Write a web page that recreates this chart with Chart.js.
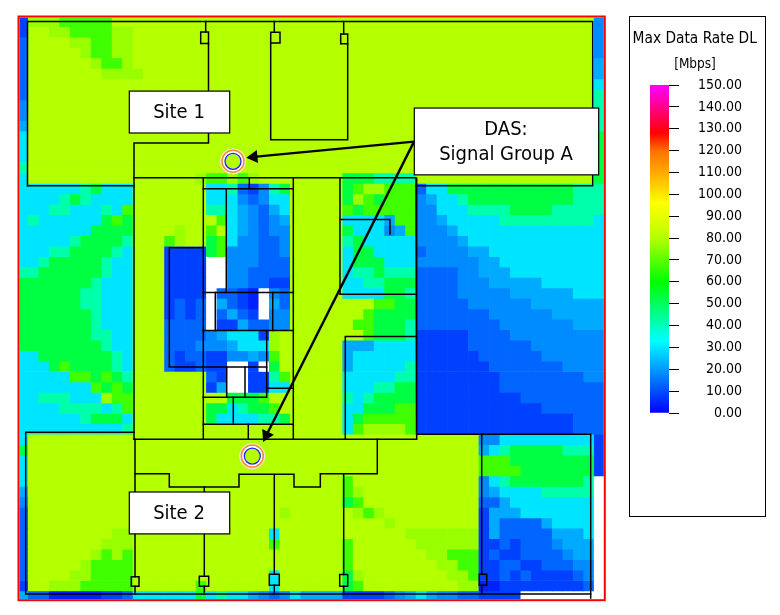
<!DOCTYPE html>
<html>
<head>
<meta charset="utf-8">
<style>
html,body{margin:0;padding:0;background:#fff;width:780px;height:615px;overflow:hidden}
canvas{position:absolute;top:0}
#plan{left:0}
#scale{left:620px}
</style>
<script src="https://cdn.jsdelivr.net/npm/chart.js@4"></script>
</head>
<body>
<canvas id="plan" width="620" height="615"></canvas>
<canvas id="scale" width="160" height="615"></canvas>
<script>
const FONT = '"DejaVu Sans Condensed","DejaVu Sans",sans-serif';

// Mbps value of each coverage class in the raster (W = no data)
const classValues = {A:80,B:77,C:67,D:53,E:42,F:29.6,G:22,H:18,I:13.2,J:8.3,K:4.1,W:null};

// Coverage raster, one string per row, 56 cells per row
const rasterRows = [
"JBBBCCCCCA AAAAAAAAAA AAAAAAAAAA AAAAAAAAAA AAAAAAAAAA AAAAAH",
"JAABBCCCCB BAAAAAAAAA AAAAAAAAAA AAAAAAAAAA AAAAAAAAAA AAAAAH",
"IAAAABBCCB BAAAAAAAAA AAAAAAAAAA AAAAAAAAAA AAAAAAAAAA AAAAAH",
"IAAAAABCCB BAAAAAAAAA AAAAAAAAAA AAAAAAAAAA AAAAAAAAAA AAAAAH",
"IAAAAAABCC BAAAAAAAAA AAAAAAAAAA AAAAAAAAAA AAAAAAAAAA AAAAAG",
"IAAAAAAABB BBAAAAAAAA AAAAAAAAAA AAAAAAAAAA AAAAAAAAAA AAAAAG",
"IAAAAAAAAA AAAAAAAAAA AAAAAAAAAA AAAAAAAAAA AAAAAAAAAA AAAAAF",
"IAAAAAAAAA AAAAAAAAAA AAAAAAAAAA AAAAAAAAAA AAAAAAAAAA AAAAAE",
"HAAAAAAAAA AAAAAAAAAA AAAAAAAAAA AAAAAAAAAA AAAAAAAAAA AAAAAE",
"HAAAAAAAAA AAAAAAAAAA AAAAAAAAAA AAAAAAAAAA AAAAAAAAAA AAAAAE",
"GAAAAAAAAA AAAAAAAAAA AAAAAAAAAA AAAAAAAAAA AAAAAAAAAA AAAAAE",
"FAAAAAAAAA AAAAAAAAAA AAAAAAAAAA AAAAAAAAAA AAAAAAAAAA AAAAAD",
"FAAAAAAAAA AAAAAAAAAA AAAAAAAAAA AAAAAAAAAA AAAAAAAAAA AAAAAD",
"FAAAAAAAAA AAAAAAAAAA AAAAAAAAAA AAAAAAAAAA AAAAAAAAAA AAAAAD",
"EAAAAAAAAA AAAAAAAAAA AAAAAAAAAA AAAAAAAAAA AAAAAAAAAA AAAAAD",
"FAAAAAAAAA AAAAAAABCC BCBAAAAAAA ADDDEEEEAA AAAAAAAAAA AAAAAD",
"FFFFFFEDFF FAAAAAAAFF EIJHEDAAAA ADCBBCCCIF FDDDDDDDDD DDDEEE",
"FFFFEDEFFF FAAAAAAAFF FHIHFFAAAA ADBCDCCCHG FFEDDDDDDD DDDEEE",
"FFFEEFFFEF CAAAAAAAEE FGHIGFAAAA ACDCCCCCHH FFFEEEEDDD DEEEEE",
"FEFFFFFFDC DAAAAAAAAC FGHIHGAAAA AFFFFGCCHH GFFFFFEEEE EEEEEF",
"FFFFFFFDDD DAAAABAACA FGHIHHAAAA ADFFFHGCHH HGFFFFFFFF FFFFFF",
"FFFFFEDDDD EAAACBAADC FHHIIHAAAA AEDFFFFFHH HHGFFFFFFF FFFFFF",
"FFFEEDDDDE FAAAJJJJDC HHHIIHAAAA AFDDFFFFIH HHHGGFFFFF FFFFFF",
"FFEDDDDDEF FAAAJJJJWW HHHIIIAAAA AFDDDFFFHH HHHHGGFFFF FFFFFF",
"EEDDDDDDEF FAAAJJJJWW HHIIIIAAAA AFEEDEEEII IIHHGGGFFF FFFFFF",
"DDDDDDDEFF FAAAJJJJWW HHIIJJAAAA AFFEEDDDII IIHHHGGGGG FFFFFF",
"DDDDDDEEFF FAAAJJJJWI IJKWHIAAAA AFFFFDDEII IIHHHHHGGG GGGFFF",
"DDDDDDEEFF FAAAJIJIWG IJKWGIAAAA AAAACCDDII IIIHHHHHHG GGGGGG",
"DDDDDDDEFF FAAAJIJIWI GIJWHHAAAA AAACDDDDII IIIIIHHHHH HGGGGG",
"DDDDDDDEFF FAAAIIIIWJ JGIIHHAAAA AACCDDDEII IIIIIIHHHH HHHGGG",
"DDDDDDDEEF FAAAIIIIHG FFFJBAAAAA AAACDDDEJJ JJJIIIIHHH HHHHHH",
"DDDDDDDDEF FAAAIIIHHH GFFFBAAAAA AGGGFFFFJJ JJJIIIIIIH HHHHHH",
"FFDDDDDDDE FAAAIJIIJJ HHGHCAAAAA AGFFFFFFJJ JJJJIIIIII HHHHHH",
"FFFDCDDDDE FAAAIJJIJJ WWJWDAAAAA AGFFFFFEJJ JJJJJIIIII IIHHHH",
"FFFFFCCDCD EAAAAAAAIJ WWJJECAAAA AFFFFFEEJJ JJJJJJIIII IIIIHH",
"FFFFFFFCDC DAAAAAAAJG WWJJFFAAAA AFFFEEDDJJ JJJJJJIIII IIIIII",
"FFEEEFFFBC CAAAAAAAAA DDDCAAAAAA AEFEDDDDJJ JJJJJJJJII IIIIII",
"FFFFEEEEFE CAAAAAAADD FEDDCAAAAA AFFDDDCCJJ JJJJJJJJJJ IIIIII",
"FFFFFFEDDD FAAAAAAADF FFFEEDAAAA AFDCCCCCJJ JJJJJJJJJJ JJJIII",
"FFFFFFFFFF EAAAAAAAAA AAAAAAAAAA AFCBBBBCJJ JJJJJJJJJJ JJJIII",
"FAAAAAAAAA AAAAAAAAAA AAAAAAAAAA AAAAAAAAAA AAAAHHFFFF FFFFFJ",
"DAAAAAAAAA AAAAAAAAAA AAAAAAAAAA AAAAAAAAAA AAAAGFEDDD DDEEEJ",
"FAAAAAAAAA AAAAAAAAAA AAAAAAAAAA AAAAAAAAAA AAAACCCDDD DDDDDJ",
"FAAAAAAAAA AAAAAAAAAA AAAAAAAAAA AAAAAAAAAA AAAACCCCDD DDDDDJ",
"FAAAAAAAAA AAAAAAAAAA AAAAAAAAAA ACAAAAAAAA AAAAHFEDDD DDDDEW",
"GAAAAAAAAA AAAAAAAAAA AAAAAAAAAA ACBAAAAAAA AAAAHGFFFF EEEEEW",
"HAAAAAAAAA AAAAAAAAAA AAAAAAAAAA ADCAAAAAAA AAAAIIGFFF FFFFFW",
"IAAAAAAAAA AAAAAAAAAA AAAAABAAAA AABCBAAAAA AAAAJGGGFF FFFFFW",
"IAAAAAAAAA AAAAAAAAAA AAAAAAAAAA AAAAABAAAA AAAAJGIIII GFFFFW",
"IAAAAAAAAB BAAAAAAAAA AAAAFAAAAA AAAAAAABBB BBBBJGIIII IGGGFW",
"IAAAAAAABB BAAAAAAAAA AAAACAAAAA ACAAAAAABB BBBBJJIJII IHGGGW",
"IAAAAAABCB CAAAAAAAAA AAAAAAAAAA ACAAAAAAAB BCCCJIJJII IIHGGW",
"IAAAAABCCC CAAAAAAAAA AAAAAAAAAA ACAAAAAAAA BBCCJJIIJJ IIIHHW",
"IAAAABBCCC CAAAAAAAAA AAAAFAAAAA ADBAAAAAAA ABBCJJIJIJ JJJIHW",
"JAABBBCCCC CAAAAAACAA AAAAFAAAAA ADCAAAAAAA AABBKKJJJJ JJJJIW",
"GIIKKKKKJJ IFFFFFFDFE FFGHIHFGGG GJJJJIHGFG HHIIJJJJWW WWWWWW"
];

// Colour scale of the original legend
const scaleStops = [[0,'#0000FF'],[33,'#00FFFF'],[60,'#00FF00'],[80,'#B4FF00'],[90,'#E6FF00'],[96,'#FFFF00'],[110,'#FFAA00'],[120,'#FF7000'],[128,'#FF0000'],[150,'#FF00FF']];
const scaleTicks = [0,10,20,30,40,50,60,70,80,90,100,110,120,130,140,150];
const scaleTitle = ['Max Data Rate DL','[Mbps]'];

// Floor-plan geometry in plan units
const planRange = {xMin:17.8,xMax:604.7,yMin:16.2,yMax:603};
const wallPaths = [
 [[27.5,186.3],[27.5,21.5],[592.7,21.5],[592.7,186.3],[416,186.3]],
 [[27.5,186.3],[134,186.3]],
 [[134,440.3],[134,143.3],[208.5,143.3],[208.5,43.5]],
 [[205.7,21.5],[205.7,32]],
 [[200.7,32],[208.5,32],[208.5,43.5],[200.7,43.5],[200.7,32]],
 [[274.3,21.5],[274.3,32.3]],
 [[270.7,32.3],[280,32.3],[280,43],[270.7,43],[270.7,32.3]],
 [[270.7,43],[270.7,140],[347.7,140],[347.7,43.7]],
 [[343.7,21.5],[343.7,34]],
 [[340.7,34],[347.7,34],[347.7,43.7],[340.7,43.7],[340.7,34]],
 [[134,178.3],[416,178.3],[416.7,440.3],[134,440.3]],
 [[340,178.3],[340,295],[416,295]],
 [[340,220],[390,220],[390,234.7]],
 [[345.3,440.3],[345.3,337.3],[416.7,337.3]],
 [[203.3,178.3],[203.3,440.3]],
 [[293.3,178.3],[293.3,440.3]],
 [[203.3,189.3],[293.3,189.3]],
 [[249.3,178.3],[249.3,189.3]],
 [[226.3,189.3],[226.3,293.3]],
 [[203.3,293.3],[293.3,293.3]],
 [[215.3,293.3],[215.3,331.3]],
 [[272.7,293.3],[272.7,331.3]],
 [[203.3,331.3],[293.3,331.3]],
 [[203.3,248.3],[169.3,248.3],[169.3,368],[266.7,368]],
 [[266.7,331.3],[266.7,398.3],[203.3,398.3]],
 [[226.7,368],[226.7,398.3]],
 [[245,368],[245,398.3]],
 [[266.7,389.3],[293.3,389.3]],
 [[203.3,425.3],[293.3,425.3]],
 [[233.3,398.3],[233.3,425.3]],
 [[248.3,425.3],[248.3,440.3]],
 [[135,440.3],[135,578.3]],
 [[131.3,578.3],[139,578.3],[139,587.7],[131.3,587.7],[131.3,578.3]],
 [[135,587.7],[135,595.7]],
 [[135,475],[169.3,475],[169.3,488.3],[239,488.3],[239,475.5],[294,475.5],[294,488.3],[320.3,488.3],[320.3,475],[377.3,475],[377.3,440.3]],
 [[204.3,488.3],[204.3,577.7]],
 [[199.3,577.7],[208.7,577.7],[208.7,587.7],[199.3,587.7],[199.3,577.7]],
 [[204.3,587.7],[204.3,595.7]],
 [[274.3,476],[274.3,575.7]],
 [[269.3,575.7],[279.3,575.7],[279.3,586.7],[269.3,586.7],[269.3,575.7]],
 [[274.3,586.7],[274.3,595.7]],
 [[343.7,475],[343.7,576]],
 [[339.7,576],[347.7,576],[347.7,587.7],[339.7,587.7],[339.7,576]],
 [[343.7,587.7],[343.7,595.7]],
 [[134,433.3],[25.7,433.3],[25.7,595.7],[590.7,595.7]],
 [[416.7,435.3],[590.7,435.3],[590.7,599.7]],
 [[481.7,435.3],[481.7,575.7]],
 [[479.3,575.7],[486.7,575.7],[486.7,586.7],[479.3,586.7],[479.3,575.7]],
 [[481.7,586.7],[481.7,595.7]]
];
const dasSites = [[233,161.7],[252.3,457.3]];
const calloutLines = [
 {from:[414,142],head:[253.7,157.3],rotation:-95.5},
 {from:[414,142],head:[266.4,436.4],rotation:-153.4}
];
const labelBoxes = [
 {box:[129.3,91.3,229.7,133.3],lines:['Site 1']},
 {box:[129.3,493.3,229.7,535.3],lines:['Site 2']},
 {box:[414.3,108.3,598.7,175.3],lines:['DAS:','Signal Group A']}
];

function hexRgb(h){return [1,3,5].map(i=>parseInt(h.substr(i,2),16));}
function colorFor(v){
  if(v===null) return '#FFFFFF';
  for(let i=1;i<scaleStops.length;i++){
    const [v0,c0]=scaleStops[i-1],[v1,c1]=scaleStops[i];
    if(v<=v1){
      const t=(v-v0)/(v1-v0),a=hexRgb(c0),b=hexRgb(c1);
      return 'rgb('+a.map((x,k)=>Math.round(x+(b[k]-x)*t)).join(',')+')';
    }
  }
  return scaleStops[scaleStops.length-1][1];
}

const grid = rasterRows.map(r=>r.replace(/ /g,'').split('').map(c=>classValues[c]));
const columns = grid[0].map((_,i)=>i);

const datasets = grid.map((row,i)=>({
  type:'bar',label:'row '+i,
  data:row.map(()=>1),
  mbps:row,
  backgroundColor:row.map(colorFor),
  borderWidth:0,barPercentage:1,categoryPercentage:1,grouped:false,order:5
}));
const overlay = {xAxisID:'px',yAxisID:'py',type:'line',parsing:true,fill:false,tension:0};
wallPaths.forEach(p=>datasets.push({...overlay,label:'wall',
  data:p.map(([x,y])=>({x,y})),borderColor:'#000',borderWidth:1.5,pointRadius:0,borderJoinStyle:'miter',borderCapStyle:'square',order:3}));
calloutLines.forEach(a=>datasets.push({...overlay,label:'callout',
  data:[{x:a.from[0],y:a.from[1]},{x:a.head[0],y:a.head[1]}],borderColor:'#000',borderWidth:2.4,
  pointStyle:'triangle',pointRadius:[0,7.5],pointRotation:[0,a.rotation],
  pointBackgroundColor:'#000',pointBorderColor:'#000',pointBorderWidth:0,order:1}));
const sitePoints = dasSites.map(([x,y])=>({x,y}));
[[12.6,'#FFFFFF','#F2E2D8',1,2.6],[11,'rgba(0,0,0,0)','#F28A2E',1.5,2.5],[8.6,'rgba(0,0,0,0)','#FFFFFF',2.5,2.4],[8,'rgba(0,0,0,0)','#2020FF',1.3,2.3]]
 .forEach(([r,bg,bc,w,ord])=>datasets.push({...overlay,label:'DAS',data:sitePoints,showLine:false,
   pointStyle:'circle',pointRadius:r,pointBackgroundColor:bg,pointBorderColor:bc,pointBorderWidth:w,order:ord}));
// inner fill of site markers shows the coverage class at that location
datasets.push({...overlay,label:'DAS centre',data:sitePoints,showLine:false,pointStyle:'circle',pointRadius:7.4,
   pointBackgroundColor:colorFor(classValues.A),pointBorderWidth:0,order:2.35});

const planDecor = {
  id:'planDecor',
  afterDatasetsDraw(chart){
    const {ctx,scales:{px,py}}=chart;
    ctx.save();
    // frame
    const x0=px.getPixelForValue(18.5),y0=py.getPixelForValue(16.5),x1=px.getPixelForValue(604.8),y1=py.getPixelForValue(601.8);
    ctx.strokeStyle='#FFFFFF';ctx.lineWidth=4;ctx.strokeRect(x0-1,y0-1,x1-x0+2,y1-y0+2);
    ctx.strokeStyle='#FF0000';ctx.lineWidth=2;ctx.strokeRect(x0,y0,x1-x0,y1-y0);
    // labels
    labelBoxes.forEach(l=>{
      const a=px.getPixelForValue(l.box[0]),b=py.getPixelForValue(l.box[1]),c=px.getPixelForValue(l.box[2]),d=py.getPixelForValue(l.box[3]);
      ctx.fillStyle='#fff';ctx.fillRect(a,b,c-a,d-b);
      ctx.strokeStyle='#000';ctx.lineWidth=1.2;ctx.strokeRect(a,b,c-a,d-b);
      ctx.fillStyle='#000';ctx.font='20px '+FONT;ctx.textAlign='center';ctx.textBaseline='middle';
      const mid=(b+d)/2+1,pitch=25;
      l.lines.forEach((t,i)=>ctx.fillText(t,(a+c)/2-0.5,mid+(i-(l.lines.length-1)/2)*pitch));
    });
    ctx.restore();
  }
};

new Chart(document.getElementById('plan'),{
  type:'bar',
  data:{labels:columns,datasets},
  plugins:[planDecor],
  options:{
    responsive:false,animation:false,
    layout:{padding:{left:planRange.xMin,right:620-planRange.xMax,top:planRange.yMin,bottom:615-planRange.yMax}},
    plugins:{legend:{display:false},tooltip:{enabled:false},title:{display:false}},
    events:[],
    scales:{
      x:{type:'category',stacked:true,display:false},
      y:{type:'linear',stacked:true,reverse:true,min:0,max:rasterRows.length,display:false},
      px:{type:'linear',display:false,offset:false,min:planRange.xMin,max:planRange.xMax,axis:'x'},
      py:{type:'linear',display:false,reverse:true,min:planRange.yMin,max:planRange.yMax,axis:'y'}
    }
  }
});

const panel = {
  id:'panel',
  beforeDraw(chart){
    const {ctx}=chart;
    ctx.save();ctx.strokeStyle='#000';ctx.lineWidth=1;ctx.strokeRect(9.5,16.5,136,500);
    ctx.fillStyle='#000';ctx.textAlign='center';ctx.textBaseline='middle';
    ctx.font='15.3px '+FONT;ctx.fillText(scaleTitle[0],74.7,39);
    ctx.font='13.5px '+FONT;ctx.fillText(scaleTitle[1],75,64);
    ctx.restore();
  }
};
new Chart(document.getElementById('scale'),{
  type:'bar',
  data:{labels:[''],datasets:[{
    data:[scaleTicks[scaleTicks.length-1]],
    barPercentage:1,categoryPercentage:1,borderWidth:0,
    backgroundColor(c){
      const a=c.chart.chartArea;
      if(!a) return '#00f';
      const g=c.chart.ctx.createLinearGradient(0,a.bottom,0,a.top),top=scaleTicks[scaleTicks.length-1];
      scaleStops.forEach(([v,col])=>g.addColorStop(v/top,col));
      return g;
    }
  }]},
  plugins:[panel],
  options:{
    responsive:false,animation:false,events:[],
    layout:{padding:{left:30,right:38,top:85,bottom:202}},
    plugins:{legend:{display:false},tooltip:{enabled:false},title:{display:false}},
    scales:{
      x:{display:false},
      y:{
        position:'right',min:0,max:150,
        afterFit(s){s.width=73;},
        afterBuildTicks(s){s.ticks=scaleTicks.map(value=>({value}));},
        grid:{drawOnChartArea:false,drawTicks:true,tickLength:10,color:'#000',lineWidth:1},
        border:{display:false},
        ticks:{autoSkip:false,crossAlign:'far',padding:14,color:'#000',font:{family:FONT,size:14},callback:v=>Number(v).toFixed(2)}
      }
    }
  }
});
</script>
</body>
</html>
